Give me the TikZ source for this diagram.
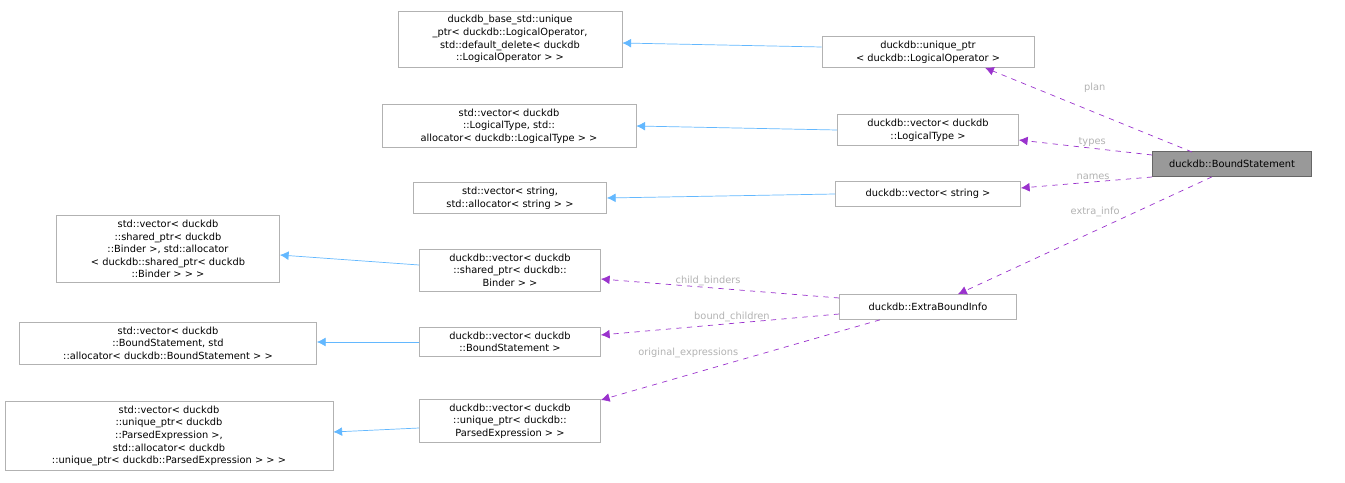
\documentclass[tikz,border=0pt]{standalone}
\usepackage{fontspec}
\setmainfont{DejaVu Sans}
\usetikzlibrary{arrows.meta}
\definecolor{usecol}{HTML}{9A32CD}
\definecolor{inhcol}{HTML}{63B8FF}

\begin{document}
\begin{tikzpicture}[
  x=0.02cm, y=-0.02cm,
  font=\fontsize{5.6}{7.2}\selectfont,
  cls/.style={draw=black!30, fill=white, align=center, inner sep=2.5pt, minimum height=25*0.02cm},
  main/.style={cls, draw=black!60, fill=black!40},
  inherit/.style={-{Latex[length=5pt,width=5pt]}, draw=inhcol, thin},
  member/.style={-{Latex[length=5pt,width=5pt]}, draw=usecol, dashed, thin},
  lbl/.style={text=black!30, inner sep=1pt}
]
\useasboundingbox (0,0) rectangle (1345,483);

% the class itself
\node[main, minimum width=159*0.02cm] (bs) at (1232,164) {duckdb::BoundStatement};

% members
\node[cls, minimum width=212*0.02cm] (uptr) at (928,52) {duckdb::unique\_ptr\\< duckdb::LogicalOperator >};
\node[cls, minimum width=181*0.02cm] (vtype) at (928,130) {duckdb::vector< duckdb\\::LogicalType >};
\node[cls, minimum width=185*0.02cm] (vstr) at (928,194) {duckdb::vector< string >};
\node[cls, minimum width=177*0.02cm] (extra) at (928,307) {duckdb::ExtraBoundInfo};

% members of ExtraBoundInfo
\node[cls, minimum width=181*0.02cm] (vbind) at (510,270) {duckdb::vector< duckdb\\::shared\_ptr< duckdb::\\Binder > >};
\node[cls, minimum width=181*0.02cm] (vbst) at (510,342) {duckdb::vector< duckdb\\::BoundStatement >};
\node[cls, minimum width=181*0.02cm] (vexpr) at (510,421) {duckdb::vector< duckdb\\::unique\_ptr< duckdb::\\ParsedExpression > >};

% base classes
\node[cls, minimum width=224*0.02cm] (buptr) at (510,39) {duckdb\_base\_std::unique\\\_ptr< duckdb::LogicalOperator,\\ std::default\_delete< duckdb\\::LogicalOperator > >};
\node[cls, minimum width=254*0.02cm] (svtype) at (509,126) {std::vector< duckdb\\::LogicalType, std::\\allocator< duckdb::LogicalType > >};
\node[cls, minimum width=193*0.02cm] (svstr) at (510,198) {std::vector< string,\\ std::allocator< string > >};
\node[cls, minimum width=223*0.02cm] (svbind) at (168,249) {std::vector< duckdb\\::shared\_ptr< duckdb\\::Binder >, std::allocator\\< duckdb::shared\_ptr< duckdb\\::Binder > > >};
\node[cls, minimum width=297*0.02cm] (svbst) at (168,343) {std::vector< duckdb\\::BoundStatement, std\\::allocator< duckdb::BoundStatement > >};
\node[cls, minimum width=328*0.02cm] (svexpr) at (169,436) {std::vector< duckdb\\::unique\_ptr< duckdb\\::ParsedExpression >,\\ std::allocator< duckdb\\::unique\_ptr< duckdb::ParsedExpression > > >};

% inheritance
\draw[inherit] (uptr.west |- 0,47) -- (buptr.east |- 0,43);
\draw[inherit] (vtype.west) -- (svtype.east);
\draw[inherit] (vstr.west) -- (svstr.east);
\draw[inherit] (vbind.west |- 0,265) -- (svbind.east |- 0,255);
\draw[inherit] (vbst.west) -- (svbst.east |- 0,342);
\draw[inherit] (vexpr.west |- 0,428) -- (svexpr.east |- 0,432);

% usage
\draw[member] (bs.north |- 0,152) ++(-40,0) coordinate (p1) -- (uptr.south -| 985,0) node[lbl, pos=0.47, above, yshift=10pt] {plan};
\draw[member] (bs.west |- 0,155) -- (vtype.east |- 0,140) node[lbl, pos=0.45, above] {types};
\draw[member] (bs.west |- 0,177) -- (vstr.east |- 0,188) node[lbl, pos=0.45, above] {names};
\draw[member] (bs.south) ++(-20,0) coordinate (p2) -- (extra.north -| 958,0) node[lbl, pos=0.46, above, yshift=7pt] {extra\_info};
\draw[member] (extra.west |- 0,298) -- (vbind.east |- 0,279) node[lbl, pos=0.55, above] {child\_binders};
\draw[member] (extra.west |- 0,314) -- (vbst.east |- 0,335) node[lbl, pos=0.45, above] {bound\_children};
\draw[member] (extra.south -| 880,0) -- (vexpr.east |- 0,400) node[lbl, pos=0.5, above left] {original\_expressions};

\end{tikzpicture}
\end{document}
